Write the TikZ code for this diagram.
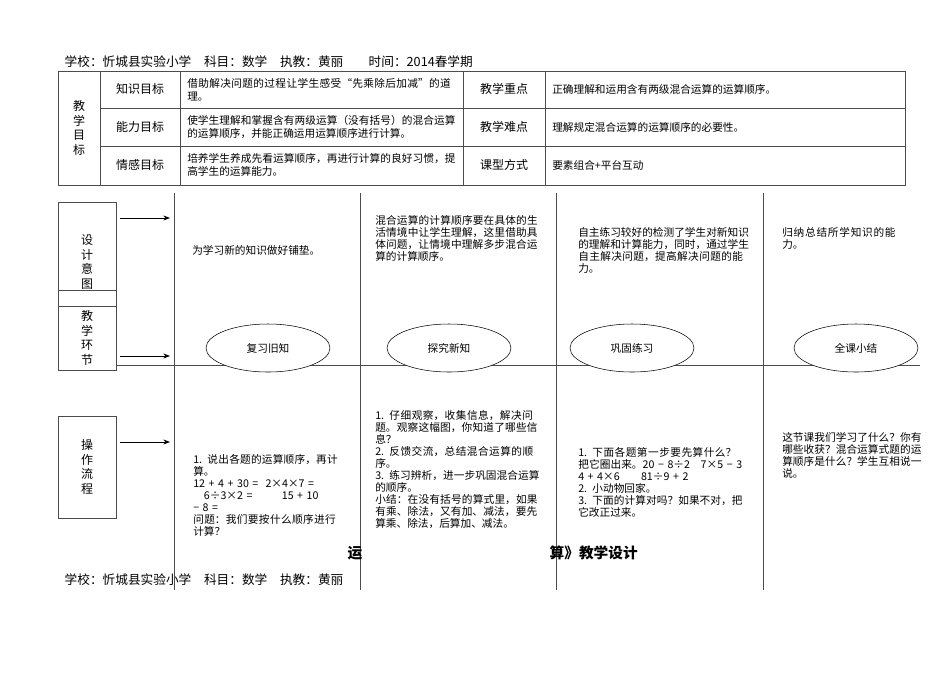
\documentclass[tikz,border=0pt]{standalone}
\usepackage{fontspec}
\setmainfont{Liberation Serif}
\newfontfamily\cjk{Noto Sans CJK SC}
\XeTeXlinebreaklocale "zh"
\XeTeXlinebreakskip=0pt plus 1pt
\usetikzlibrary{arrows.meta,shapes.geometric}
\begin{document}
\begin{tikzpicture}[x=0.75pt,y=-0.75pt,font=\cjk,
  ln/.style={draw=black!70,line width=0.6pt},
  cell/.style={font=\cjk\fontsize{8}{10}\selectfont,text width=#1,align=left,inner sep=0pt},
  lab/.style={font=\cjk\fontsize{9}{11}\selectfont},
  body/.style={font=\cjk\fontsize{8}{9}\selectfont,text width=#1,align=left,inner sep=0pt,anchor=north west},
  oval/.style={draw,ellipse,minimum width=93pt,minimum height=36pt,font=\cjk\fontsize{8}{10}\selectfont,fill=white},
  arr/.style={-{Stealth[length=5pt]},line width=0.6pt}]
\useasboundingbox (0,0) rectangle (950,672);
\node[anchor=west,font=\cjk\fontsize{9.5}{11}\selectfont] (hd) at (60,62) {学校：忻城县实验小学\quad 科目：数学\quad 执教：黄丽\qquad 时间：2014春学期};
% table
\draw[ln] (58,71) rectangle (905,185);
\foreach \y in {108,146}{\draw[ln] (100,\y)--(905,\y);}
\foreach \x in {100,180,463,545}{\draw[ln] (\x,71)--(\x,185);}
\node[lab,align=center] (jm) at (79,128) {教\\学\\目\\标};
\node[lab] (z1) at (140,89) {知识目标};
\node[lab] (z2) at (140,127) {能力目标};
\node[lab] (z3) at (140,165) {情感目标};
\node[cell=202pt,anchor=west] (c1) at (187,90) {借助解决问题的过程让学生感受“先乘除后加减”的道理。};
\node[cell=202pt,anchor=west] (c2) at (187,127) {使学生理解和掌握含有两级运算（没有括号）的混合运算的运算顺序，并能正确运用运算顺序进行计算。};
\node[cell=202pt,anchor=west] (c3) at (187,165) {培养学生养成先看运算顺序，再进行计算的良好习惯，提高学生的运算能力。};
\node[lab] (r1) at (504,89) {教学重点};
\node[lab] (r2) at (504,127) {教学难点};
\node[lab] (r3) at (504,165) {课型方式};
\node[cell=255pt,anchor=west] (d1) at (552,89) {正确理解和运用含有两级混合运算的运算顺序。};
\node[cell=255pt,anchor=west] (d2) at (552,127) {理解规定混合运算的运算顺序的必要性。};
\node[cell=255pt,anchor=west] (d3) at (552,165) {要素组合+平台互动};
% verticals
\foreach \x in {174,360,556,763}{\draw[ln] (\x,193)--(\x,590);}
\draw[ln] (116,365)--(920,365);
% left boxes
\draw[ln] (58,202) rectangle (116,290);
\draw[ln] (58,290) rectangle (116,306);
\draw[ln] (58,306) rectangle (116,370);
\draw[ln] (58,416) rectangle (116,518);
\node[lab,align=center] (b1) at (87,262) {设\\计\\意\\图};
\node[lab,align=center] (b2) at (87,338) {教\\学\\环\\节};
\node[lab,align=center] (b3) at (87,467) {操\\作\\流\\程};
\coordinate (a1) at (120,218); \coordinate (a1e) at (170,218);
\coordinate (a2) at (120,356); \coordinate (a2e) at (170,356);
\coordinate (a3) at (120,442); \coordinate (a3e) at (170,442);
\draw[arr] (a1)--(a1e); \draw[arr] (a2)--(a2e); \draw[arr] (a3)--(a3e);
% ovals
\node[oval] (o1) at (268,348) {复习旧知};
\node[oval] (o2) at (449,348) {探究新知};
\node[oval] (o3) at (632,348) {巩固练习};
\node[oval] (o4) at (856,348) {全课小结};
% design intents
\node[body=124pt,anchor=west] (t1) at (192,250) {为学习新的知识做好铺垫。};
\node[body=124pt] (t2) at (375,215) {混合运算的计算顺序要在具体的生活情境中让学生理解，这里借助具体问题，让情境中理解多步混合运算的计算顺序。};
\node[body=128pt] (t3) at (578,227) {自主练习较好的检测了学生对新知识的理解和计算能力，同时，通过学生自主解决问题，提高解决问题的能力。};
\node[body=94pt] (t4) at (782,227) {归纳总结所学知识的能力。};
% operations
\node[body=111pt] (p1) at (193,454) {1. 说出各题的运算顺序，再计算。\\12 + 4 + 30 =\ \ 2×4×7 =\\\hspace*{8pt}6÷3×2 =\hspace{22pt}15 + 10\\− 8 =\\问题：我们要按什么顺序进行计算？};
\node[body=124pt] (p2) at (375,410) {1. 仔细观察，收集信息，解决问题。观察这幅图，你知道了哪些信息？\\2. 反馈交流，总结混合运算的顺序。\\3. 练习辨析，进一步巩固混合运算的顺序。\\小结：在没有括号的算式里，如果有乘、除法，又有加、减法，要先算乘、除法，后算加、减法。};
\node[body=124pt] (p3) at (578,447) {1. 下面各题第一步要先算什么？把它圈出来。20 − 8÷2\quad 7×5 − 3\quad 4 + 4×6\quad\quad 81÷9 + 2\\2. 小动物回家。\\3. 下面的计算对吗？如果不对，把它改正过来。};
\node[body=105pt] (p4) at (782,432) {这节课我们学习了什么？你有哪些收获？混合运算式题的运算顺序是什么？学生互相说一说。};
% fragments of title
\node[font=\cjk\bfseries\fontsize{11}{12}\selectfont,anchor=west] (f1) at (343,553) {运};
\node[font=\cjk\bfseries\fontsize{11}{12}\selectfont,anchor=west] (f2) at (545,553) {算》教学设计};
\node[anchor=west,font=\cjk\fontsize{9.5}{11}\selectfont] (ft) at (60,580) {学校：忻城县实验小学\quad 科目：数学\quad 执教：黄丽};
\end{tikzpicture}
\end{document}
